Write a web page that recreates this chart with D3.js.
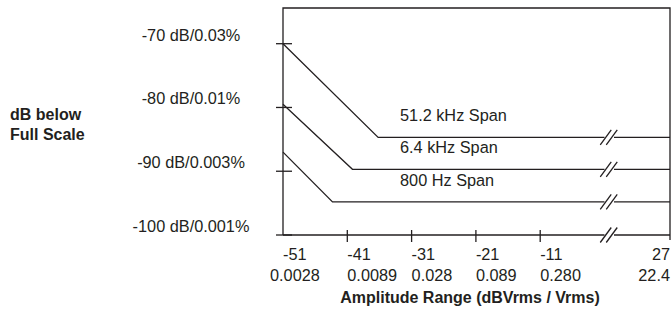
<!DOCTYPE html>
<html>
<head>
<meta charset="utf-8">
<script src="https://cdn.jsdelivr.net/npm/d3@7"></script>
<style>
  html, body { margin: 0; padding: 0; background: #fff; }
  svg { display: block; }
  text { font-family: "Liberation Sans", Arial, sans-serif; fill: #231f20; }
</style>
</head>
<body>
<svg id="chart" width="671" height="314"></svg>
<script>
// ---- data ----
const seriesNames = ["51.2 kHz Span", "6.4 kHz Span", "800 Hz Span"];
const startLevels = [-70, -79.5, -87];        // dB at -51 dBVrms
const kneeAmplitudes = [-36.2, -40.2, -43.3];  // dBVrms where floor is reached
const floorLevels = [-84.7, -89.7, -94.8];     // dB floor
const yTickValues = [-70, -80, -90, -100];
const yTickLabels = ["-70 dB/0.03%", "-80 dB/0.01%", "-90 dB/0.003%", "-100 dB/0.001%"];
const xTickValues = [-51, -41, -31, -21, -11, 27];
const xTickLabelsDb = ["-51", "-41", "-31", "-21", "-11", "27"];
const xTickLabelsVrms = ["0.0028", "0.0089", "0.028", "0.089", "0.280", "22.4"];
const xMin = -51, xMax = 27, breakStart = -1, breakEnd = 19;
const yTop = -64.4, yBottom = -100;

// ---- layout ----
const svg = d3.select("#chart");
const ink = "#231f20";
const x = d3.scaleLinear().domain([xMin, breakStart, breakEnd, xMax]).range([283, 604.5, 614, 670]);
const y = d3.scaleLinear().domain([yBottom, -70]).range([235, 43.7]);

const g = svg.append("g");
const sw = 1.3;
const fs = 16.3;
const fsb = 16;

// frame: left, top, right
g.append("path")
  .attr("d", `M${x(xMin)},${y(yBottom)} V${y(yTop)} H${x(xMax)} V${y(yBottom) + 5}`)
  .attr("fill", "none").attr("stroke", ink).attr("stroke-width", sw);

// x axis with break
g.append("line").attr("x1", x(xMin)).attr("x2", x(breakStart)).attr("y1", y(yBottom)).attr("y2", y(yBottom))
  .attr("stroke", ink).attr("stroke-width", sw);
g.append("line").attr("x1", x(breakEnd)).attr("x2", x(xMax)).attr("y1", y(yBottom)).attr("y2", y(yBottom))
  .attr("stroke", ink).attr("stroke-width", sw);

function breakMark(yy) {
  const cx = (x(breakStart) + x(breakEnd)) / 2;
  [-3.5, 2.5].forEach(off => {
    g.append("line")
      .attr("x1", cx + off - 5.5).attr("y1", yy + 7.5)
      .attr("x2", cx + off + 5.5).attr("y2", yy - 7.5)
      .attr("stroke", ink).attr("stroke-width", sw);
  });
}
breakMark(y(yBottom));

// y ticks
yTickValues.forEach((v, i) => {
  g.append("line").attr("x1", x(xMin) - 7).attr("x2", x(xMin) + 9)
    .attr("y1", y(v)).attr("y2", y(v)).attr("stroke", ink).attr("stroke-width", sw);
  g.append("text").attr("x", 191).attr("y", y(v) - 3)
    .attr("text-anchor", "middle").attr("font-size", fs)
    .text(yTickLabels[i]);
});

// x ticks
xTickValues.forEach((v, i) => {
  if (i > 0 && i < xTickValues.length - 1) {
    g.append("line").attr("x1", x(v)).attr("x2", x(v))
      .attr("y1", y(yBottom) - 5).attr("y2", y(yBottom) + 7)
      .attr("stroke", ink).attr("stroke-width", sw);
  }
  const last = i === xTickValues.length - 1;
  const anchor = last ? "end" : "start";
  g.append("text").attr("x", x(v)).attr("y", 260)
    .attr("text-anchor", anchor).attr("font-size", fs)
    .text(xTickLabelsDb[i]);
  g.append("text").attr("x", x(v) + (i === 0 ? -13 : 0)).attr("y", 281)
    .attr("text-anchor", anchor).attr("font-size", fs)
    .text(xTickLabelsVrms[i]);
});

// series
const line = d3.line().x(d => x(d[0])).y(d => y(d[1]));
seriesNames.forEach((name, i) => {
  const left = [[xMin, startLevels[i]], [kneeAmplitudes[i], floorLevels[i]], [breakStart, floorLevels[i]]];
  const right = [[breakEnd, floorLevels[i]], [xMax, floorLevels[i]]];
  g.append("path").attr("d", line(left)).attr("fill", "none").attr("stroke", ink).attr("stroke-width", sw);
  g.append("path").attr("d", line(right)).attr("fill", "none").attr("stroke", ink).attr("stroke-width", sw);
  breakMark(y(floorLevels[i]));
  g.append("text").attr("x", x(-32.8)).attr("y", y(floorLevels[i]) - 16)
    .attr("font-size", fs)
    .text(name);
});

// axis titles
g.append("text").attr("x", 10).attr("y", 120).attr("font-size", fsb).attr("font-weight", "bold")
  .text("dB below");
g.append("text").attr("x", 10).attr("y", 140).attr("font-size", fsb).attr("font-weight", "bold")
  .text("Full Scale");
g.append("text").attr("x", 470).attr("y", 303).attr("text-anchor", "middle").attr("font-size", fsb)
  .attr("font-weight", "bold").text("Amplitude Range (dBVrms / Vrms)");
</script>
</body>
</html>
